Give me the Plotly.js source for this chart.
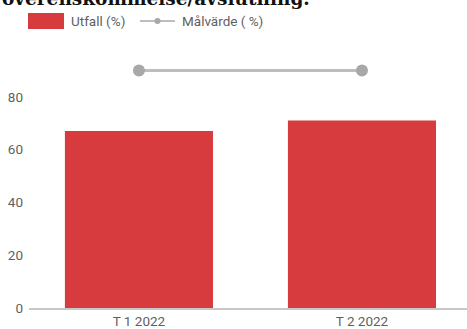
<!DOCTYPE html>
<html>
<head>
<meta charset="utf-8">
<script src="https://cdn.plot.ly/plotly-3.0.1.min.js"></script>
<style>
  html, body { margin: 0; padding: 0; background: #fff; }
  #chart { width: 467px; height: 329px; }
</style>
</head>
<body>
<div id="chart"></div>
<script>
// ---- data ----
const categories = ['T 1 2022', 'T 2 2022'];
const utfall = [67, 71];
const malvarde = [90, 90];
const seriesNames = ['Utfall (%)', 'Målvärde ( %)'];
const titleText = 'överenskommelse/avslutning.';
const yTicks = [0, 20, 40, 60, 80];

const barColor = '#d83b3d';
const lineColor = '#bdbdbd';
const markerColor = '#a8a8a8';
const textColor = '#5f5f5f';

const traces = [
  {
    type: 'bar',
    name: seriesNames[0],
    x: categories,
    y: utfall,
    marker: { color: barColor },
    hoverinfo: 'skip'
  },
  {
    type: 'scatter',
    mode: 'lines+markers',
    name: seriesNames[1],
    x: categories,
    y: malvarde,
    line: { color: lineColor, width: 3 },
    marker: { color: markerColor, size: 12 },
    hoverinfo: 'skip'
  }
];

const layout = {
  width: 467,
  height: 329,
  margin: { l: 29, r: 0, t: 44, b: 21, pad: 0 },
  paper_bgcolor: '#ffffff',
  plot_bgcolor: '#ffffff',
  showlegend: false,
  bargap: 0.336,
  font: { family: 'Roboto, sans-serif', size: 13.5, color: textColor },
  xaxis: {
    type: 'category',
    range: [-0.493, 1.471],
    showgrid: false,
    zeroline: false,
    showline: true,
    linecolor: '#c8c8c8',
    linewidth: 1.5,
    ticks: '',
    tickfont: { family: 'Roboto, sans-serif', size: 13.5, color: textColor },
    fixedrange: true
  },
  yaxis: {
    range: [0, 100],
    tickvals: yTicks,
    showgrid: false,
    zeroline: false,
    showline: false,
    ticks: '',
    ticklabelstandoff: 5,
    tickfont: { family: 'Roboto, sans-serif', size: 13.5, color: textColor },
    fixedrange: true
  }
};

// custom legend (pixel offsets from the top-left corner of the plot area)
layout.shapes = [
  { type: 'rect', xref: 'paper', yref: 'paper', xsizemode: 'pixel', ysizemode: 'pixel',
    xanchor: 0, yanchor: 1, x0: -1, x1: 35, y0: 15, y1: 31,
    fillcolor: barColor, line: { width: 0 } },
  { type: 'line', xref: 'paper', yref: 'paper', xsizemode: 'pixel', ysizemode: 'pixel',
    xanchor: 0, yanchor: 1, x0: 111, x1: 146, y0: 23, y1: 23,
    line: { color: lineColor, width: 2 } },
  { type: 'circle', xref: 'paper', yref: 'paper', xsizemode: 'pixel', ysizemode: 'pixel',
    xanchor: 0, yanchor: 1, x0: 125.5, x1: 131.5, y0: 20, y1: 26,
    fillcolor: markerColor, line: { width: 0 } }
];
layout.annotations = [
  // title, partly cut off at the top edge as in the reference
  { xref: 'paper', yref: 'paper', x: 0, y: 1, xshift: -29, yshift: 46,
    xanchor: 'left', yanchor: 'middle', showarrow: false,
    text: '<b>' + titleText + '</b>',
    font: { family: 'DejaVu Serif, serif', size: 18.5, color: '#111111' } },
  { xref: 'paper', yref: 'paper', x: 0, y: 1, xshift: 40, yshift: 23,
    xanchor: 'left', yanchor: 'middle', showarrow: false, text: seriesNames[0],
    font: { family: 'Roboto, sans-serif', size: 13.5, color: textColor } },
  { xref: 'paper', yref: 'paper', x: 0, y: 1, xshift: 151, yshift: 23,
    xanchor: 'left', yanchor: 'middle', showarrow: false, text: seriesNames[1],
    font: { family: 'Roboto, sans-serif', size: 13.5, color: textColor } }
];

Plotly.newPlot('chart', traces, layout, { displayModeBar: false, staticPlot: true });
</script>
</body>
</html>
